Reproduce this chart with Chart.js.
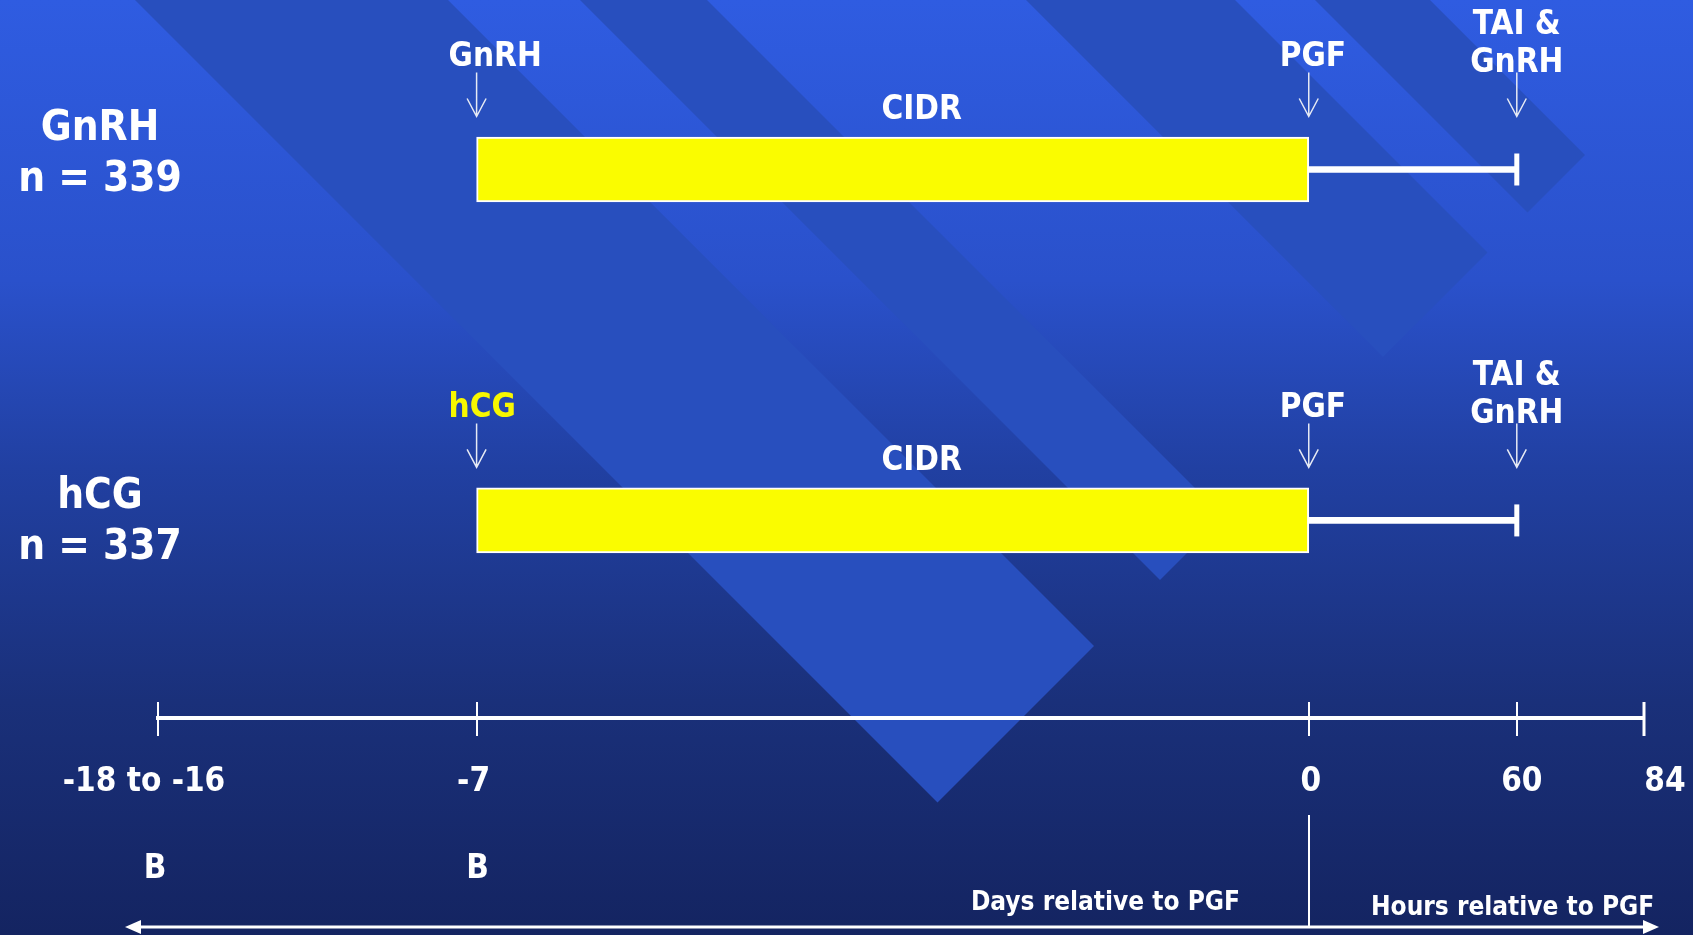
<!DOCTYPE html>
<html>
<head>
<meta charset="utf-8">
<title>Ovsynch protocol: GnRH vs hCG</title>
<script src="https://cdn.jsdelivr.net/npm/chart.js@4.4.1/dist/chart.umd.min.js"></script>
<style>
  html, body { margin: 0; padding: 0; background: #1a2f78; overflow: hidden; }
  #wrap { width: 1693px; height: 935px; }
</style>
</head>
<body>
<div id="wrap"><canvas id="c" width="1693" height="935"></canvas></div>
<script>
// Treatment groups
const groups = ['GnRH', 'hCG'];
const groupSizes = [339, 337];
const firstInjection = ['GnRH', 'hCG'];
const secondInjection = 'PGF';
const finalStep = ['TAI &', 'GnRH'];
const insertName = 'CIDR';

// Time line: tick labels and their slot on the (broken) time axis
const tickLabels = ['-18 to -16', '-7', '0', '60', '84'];
const tickSlots = [-9.68, -7, 0, 1.75, 2.82];
const baselineLabels = ['B', 'B'];
const baselineTicks = ['-18 to -16', '-7'];
const daysCaption = 'Days relative to PGF';
const hoursCaption = 'Hours relative to PGF';

// Protocol timing
const cidrInDay = '-7';
const cidrOutDay = '0';
const taiHour = '60';

// ---- styling ----
const FONT = '"DejaVu Sans Condensed", "DejaVu Sans", sans-serif';
const injectionColors = ['#ffffff', '#f7f700'];
const groupLabelNudge = [-18, -1];
const tickLabelNudge = [-14, -3, 2, 5, 21];
const baselineNudge = [-3, 1];
const stripeBands = [[135, 448], [580, 707], [1026, 1235], [1315, 1430]];
const stripeCut = 1740;

const slotOf = lbl => tickSlots[tickLabels.indexOf(lbl)];
const rows = groups.map((g, i) => i + 1);

const backdropPlugin = {
  id: 'backdrop',
  beforeDraw(chart) {
    const { ctx, width, height } = chart;
    ctx.save();
    const g = ctx.createLinearGradient(0, 0, 0, height);
    g.addColorStop(0, '#2f5ce1');
    g.addColorStop(0.3, '#2a51cb');
    g.addColorStop(0.5, '#2140a2');
    g.addColorStop(0.75, '#1a307a');
    g.addColorStop(1, '#142461');
    ctx.fillStyle = g;
    ctx.fillRect(0, 0, width, height);
    // diagonal ribbons
    ctx.fillStyle = 'rgb(40,79,190)';
    for (const [a, b] of stripeBands) {
      ctx.beginPath();
      ctx.moveTo(a, 0);
      ctx.lineTo(b, 0);
      ctx.lineTo((stripeCut + b) / 2, (stripeCut - b) / 2);
      ctx.lineTo((stripeCut + a) / 2, (stripeCut - a) / 2);
      ctx.closePath();
      ctx.fill();
    }
    ctx.restore();

    // small horizontal nudges of the time-axis labels
    const xs = chart.scales.x;
    const items = xs.getLabelItems(chart.chartArea);
    items.forEach((it, i) => {
      if (!it._nudged) {
        it.options.translation = [it.options.translation[0] + (tickLabelNudge[i] || 0), it.options.translation[1]];
        it._nudged = true;
      }
    });
  }
};

function label(ctx, str, x, cy, size, align, color) {
  ctx.font = `bold ${size}px ${FONT}`;
  ctx.textAlign = align;
  ctx.textBaseline = 'alphabetic';
  ctx.fillStyle = color || '#ffffff';
  ctx.fillText(str, x, cy + size * 0.32);
}

function downArrow(ctx, x, yTop, yTip) {
  ctx.save();
  ctx.strokeStyle = '#e6eaf4';
  ctx.lineWidth = 1.5;
  ctx.beginPath();
  ctx.moveTo(x, yTop);
  ctx.lineTo(x, yTip);
  ctx.moveTo(x - 9.5, yTip - 18);
  ctx.lineTo(x, yTip);
  ctx.lineTo(x + 9.5, yTip - 18);
  ctx.stroke();
  ctx.restore();
}

const protocolPlugin = {
  id: 'protocol',
  afterDraw(chart) {
    const { ctx, chartArea } = chart;
    const xs = chart.scales.x, ys = chart.scales.y;
    const X = v => xs.getPixelForValue(v);
    const axisY = xs.top;
    ctx.save();

    // tick marks crossing the time line
    ctx.strokeStyle = '#ffffff';
    tickSlots.forEach((v, i) => {
      ctx.lineWidth = i === tickSlots.length - 1 ? 3 : 2;
      const px = Math.round(X(v));
      ctx.beginPath();
      ctx.moveTo(px, axisY - 16);
      ctx.lineTo(px, axisY + 18);
      ctx.stroke();
    });

    // per-group annotations
    const xIn = X(slotOf(cidrInDay));
    const xOut = X(slotOf(cidrOutDay));
    const xTai = X(slotOf(taiHour));
    groups.forEach((g, i) => {
      const cy = ys.getPixelForValue(rows[i]);
      const lx = chartArea.left - 58;
      const ly = cy + groupLabelNudge[i];
      label(ctx, g, lx, ly - 25, 42, 'center');
      label(ctx, 'n = ' + groupSizes[i], lx, ly + 26, 42, 'center');

      label(ctx, firstInjection[i], xIn - 28, cy - 114, 33, 'left', injectionColors[i]);
      downArrow(ctx, xIn, cy - 97, cy - 53);
      label(ctx, secondInjection, xOut - 29, cy - 114, 33, 'left');
      downArrow(ctx, xOut, cy - 97, cy - 53);
      label(ctx, finalStep[0], xTai, cy - 146, 33, 'center');
      label(ctx, finalStep[1], xTai, cy - 108, 33, 'center');
      downArrow(ctx, xTai, cy - 97, cy - 53);
      label(ctx, insertName, (xIn + xOut) / 2 + 29, cy - 61, 33, 'center');
    });

    // baseline markers
    baselineTicks.forEach((t, k) => {
      label(ctx, baselineLabels[k], X(slotOf(t)) + baselineNudge[k], axisY + 149, 33, 'center');
    });

    // days / hours captions with divider and double arrow
    const x0 = Math.round(X(slotOf('0')));
    label(ctx, daysCaption, x0 - 69, axisY + 184, 26, 'right');
    label(ctx, hoursCaption, x0 + 62, axisY + 189, 26, 'left');

    ctx.strokeStyle = '#ffffff';
    ctx.lineWidth = 2;
    ctx.beginPath();
    ctx.moveTo(x0, axisY + 97);
    ctx.lineTo(x0, axisY + 209);
    ctx.stroke();

    const yA = axisY + 209;
    const left = X(tickSlots[0]) - 33;
    const right = X(tickSlots[tickSlots.length - 1]) + 15;
    ctx.lineWidth = 3;
    ctx.beginPath();
    ctx.moveTo(left + 12, yA);
    ctx.lineTo(right - 12, yA);
    ctx.stroke();
    ctx.fillStyle = '#ffffff';
    ctx.beginPath();
    ctx.moveTo(left, yA); ctx.lineTo(left + 16, yA - 7); ctx.lineTo(left + 16, yA + 7); ctx.closePath();
    ctx.fill();
    ctx.beginPath();
    ctx.moveTo(right, yA); ctx.lineTo(right - 16, yA - 7); ctx.lineTo(right - 16, yA + 7); ctx.closePath();
    ctx.fill();

    ctx.restore();
  }
};

new Chart(document.getElementById('c'), {
  type: 'bar',
  data: {
    datasets: [
      {
        label: insertName,
        indexAxis: 'y',
        grouped: false,
        data: groups.map((g, i) => ({ x: [slotOf(cidrInDay), slotOf(cidrOutDay)], y: rows[i] })),
        backgroundColor: '#fafc00',
        borderColor: '#ffffff',
        borderWidth: 2,
        borderSkipped: false,
        barThickness: 65,
        order: 2
      },
      {
        label: 'PGF to TAI',
        indexAxis: 'y',
        grouped: false,
        data: groups.map((g, i) => ({ x: [slotOf(cidrOutDay), slotOf(taiHour)], y: rows[i] })),
        backgroundColor: '#ffffff',
        borderWidth: 0,
        barThickness: 6,
        order: 1
      },
      {
        type: 'scatter',
        label: 'TAI',
        data: groups.map((g, i) => ({ x: slotOf(taiHour), y: rows[i] })),
        pointStyle: 'line',
        rotation: 90,
        pointRadius: 16,
        pointBorderWidth: 5,
        pointBorderColor: '#ffffff',
        pointBackgroundColor: '#ffffff',
        order: 0
      }
    ]
  },
  options: {
    responsive: false,
    animation: false,
    devicePixelRatio: 1,
    layout: { autoPadding: false, padding: { left: 158, right: 49, top: 0, bottom: 0 } },
    plugins: { legend: { display: false }, tooltip: { enabled: false } },
    scales: {
      x: {
        type: 'linear',
        min: tickSlots[0],
        max: tickSlots[tickSlots.length - 1],
        offset: false,
        grid: { display: false, drawTicks: false },
        border: { display: true, color: '#ffffff', width: 4 },
        afterBuildTicks: s => { s.ticks = tickSlots.map(v => ({ value: v })); },
        afterFit: s => { s.height = 217; s.paddingLeft = 0; s.paddingRight = 0; },
        ticks: {
          autoSkip: false, maxRotation: 0, minRotation: 0, padding: 45,
          color: '#ffffff',
          font: { family: FONT, size: 33, weight: 'bold' },
          callback: (v, i) => tickLabels[i]
        }
      },
      y: { type: 'linear', reverse: true, min: 0.517, max: 2.563, display: false, offset: false }
    }
  },
  plugins: [backdropPlugin, protocolPlugin]
});
</script>
</body>
</html>
